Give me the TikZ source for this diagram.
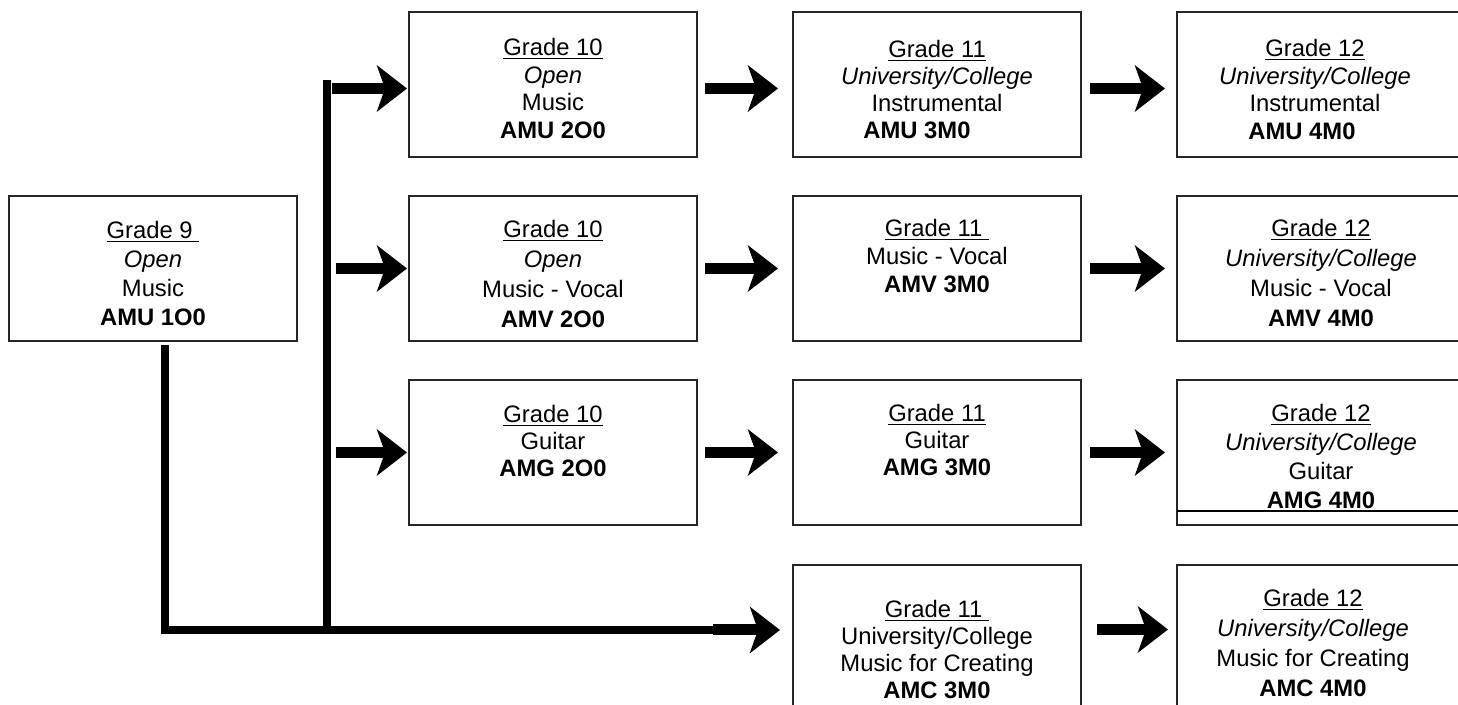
\documentclass[tikz,border=0pt]{standalone}
\usepackage{fontspec}
\setmainfont{Liberation Sans}
\usetikzlibrary{positioning, arrows.meta}

\begin{document}
\begin{tikzpicture}[x=1pt, y=1pt,
  course/.style={draw=black!85, line width=0.7pt, minimum width=144pt, minimum height=72.5pt, inner sep=0pt, outer sep=0pt},
  txt/.style 2 args={anchor=north, inner sep=0pt, align=center, yshift=-#1, font=\fontsize{11.9pt}{#2}\selectfont},
  bar/.style={line width=4pt},
  blockarrow/.style={line width=5.5pt, -{Stealth[length=15pt, width=23pt, inset=4pt]}}]
\useasboundingbox (0,0) rectangle (729,-352.5);

\node[course, anchor=north west] (g9) at (4.5,-98) {};
\node[course, anchor=north west] (g10a) at (204.5,-6) {};
\node[course, right=48pt of g10a] (g11a) {};
\node[course, right=48pt of g11a] (g12a) {};
\node[course, below=19.5pt of g10a] (g10b) {};
\node[course, right=48pt of g10b] (g11b) {};
\node[course, right=48pt of g11b] (g12b) {};
\node[course, below=19.5pt of g10b] (g10c) {};
\node[course, right=48pt of g10c] (g11c) {};
\node[course, right=48pt of g11c] (g12c) {};
\node[course, below=20pt of g11c] (g11d) {};
\node[course, right=48pt of g11d] (g12d) {};

\node[txt={12.5pt}{14.5pt}] (g9t) at (g9.north) {\underline{Grade 9\ }\\ \textit{Open}\\ Music\\ \textbf{AMU 1O0}};
\node[txt={13pt}{13.8pt}] (g10at) at (g10a.north) {\underline{Grade 10}\\ \textit{Open}\\ Music\\ \textbf{AMU 2O0}};
\node[txt={14pt}{13.5pt}] (g11at) at (g11a.north) {\underline{Grade 11}\\ \textit{University/College}\\ Instrumental\\ \textbf{AMU 3M0}\hspace*{20pt}};
\node[txt={13.5pt}{13.8pt}, xshift=-3pt] (g12at) at (g12a.north) {\underline{Grade 12}\\ \textit{University/College}\\ Instrumental\\ \textbf{AMU 4M0}\hspace*{13pt}};
\node[txt={12pt}{15pt}] (g10bt) at (g10b.north) {\underline{Grade 10}\\ \textit{Open}\\ Music - Vocal\\ \textbf{AMV 2O0}};
\node[txt={11.5pt}{14pt}] (g11bt) at (g11b.north) {\underline{Grade 11\ }\\ Music - Vocal\\ \textbf{AMV 3M0}};
\node[txt={11.5pt}{15pt}] (g12bt) at (g12b.north) {\underline{Grade 12}\\ \textit{University/College}\\ Music - Vocal\\ \textbf{AMV 4M0}};
\node[txt={12.5pt}{13.5pt}] (g10ct) at (g10c.north) {\underline{Grade 10}\\ Guitar\\ \textbf{AMG 2O0}};
\node[txt={12pt}{13.5pt}] (g11ct) at (g11c.north) {\underline{Grade 11}\\ Guitar\\ \textbf{AMG 3M0}};
\node[txt={12pt}{14.5pt}] (g12ct) at (g12c.north) {\underline{Grade 12}\\ \textit{University/College}\\ Guitar\\ \textbf{AMG 4M0}};
\node[txt={17.5pt}{13.5pt}] (g11dt) at (g11d.north) {\underline{Grade 11\ }\\ University/College\\ Music for Creating\\ \textbf{AMC 3M0}};
\node[txt={12pt}{15pt}, xshift=-4pt] (g12dt) at (g12d.north) {\underline{Grade 12}\\ \textit{University/College}\\ Music for Creating\\ \textbf{AMC 4M0}};

\draw[line width=0.7pt] ([yshift=7pt]g12c.south west) -- ([yshift=7pt]g12c.south east);

\coordinate (trunktop) at (163.5,-40);
\coordinate (trunkfoot) at (163.5,-315);
\coordinate (feed) at (357.5,-315);
\coordinate (feedtip) at (390,-315);
\draw[bar] ([xshift=6pt, yshift=-2pt]g9.south) |- (feed);
\draw[bar] (trunktop) -- (trunkfoot);

\draw[blockarrow] (trunktop |- g10a.west) ++(2.5pt,-2pt) -- ([xshift=-1pt, yshift=-2pt]g10a.west);
\draw[blockarrow] (trunktop |- g10b.west) ++(4.5pt,0) -- ([xshift=-1pt]g10b.west);
\draw[blockarrow] (trunktop |- g10c.west) ++(4.5pt,0) -- ([xshift=-1pt]g10c.west);
\draw[blockarrow] ([xshift=-1pt]feed) -- (feedtip);

\draw[blockarrow] ([xshift=4pt, yshift=-2pt]g10a.east) -- ([xshift=-7.5pt, yshift=-2pt]g11a.west);
\draw[blockarrow] ([xshift=4pt]g10b.east) -- ([xshift=-7.5pt]g11b.west);
\draw[blockarrow] ([xshift=4pt]g10c.east) -- ([xshift=-7.5pt]g11c.west);
\draw[blockarrow] ([xshift=4.5pt, yshift=-2pt]g11a.east) -- ([xshift=-6pt, yshift=-2pt]g12a.west);
\draw[blockarrow] ([xshift=4.5pt]g11b.east) -- ([xshift=-6pt]g12b.west);
\draw[blockarrow] ([xshift=4.5pt]g11c.east) -- ([xshift=-6pt]g12c.west);
\draw[blockarrow] ([xshift=8pt, yshift=4pt]g11d.east) -- ([xshift=-4.5pt, yshift=4pt]g12d.west);
\end{tikzpicture}
\end{document}
